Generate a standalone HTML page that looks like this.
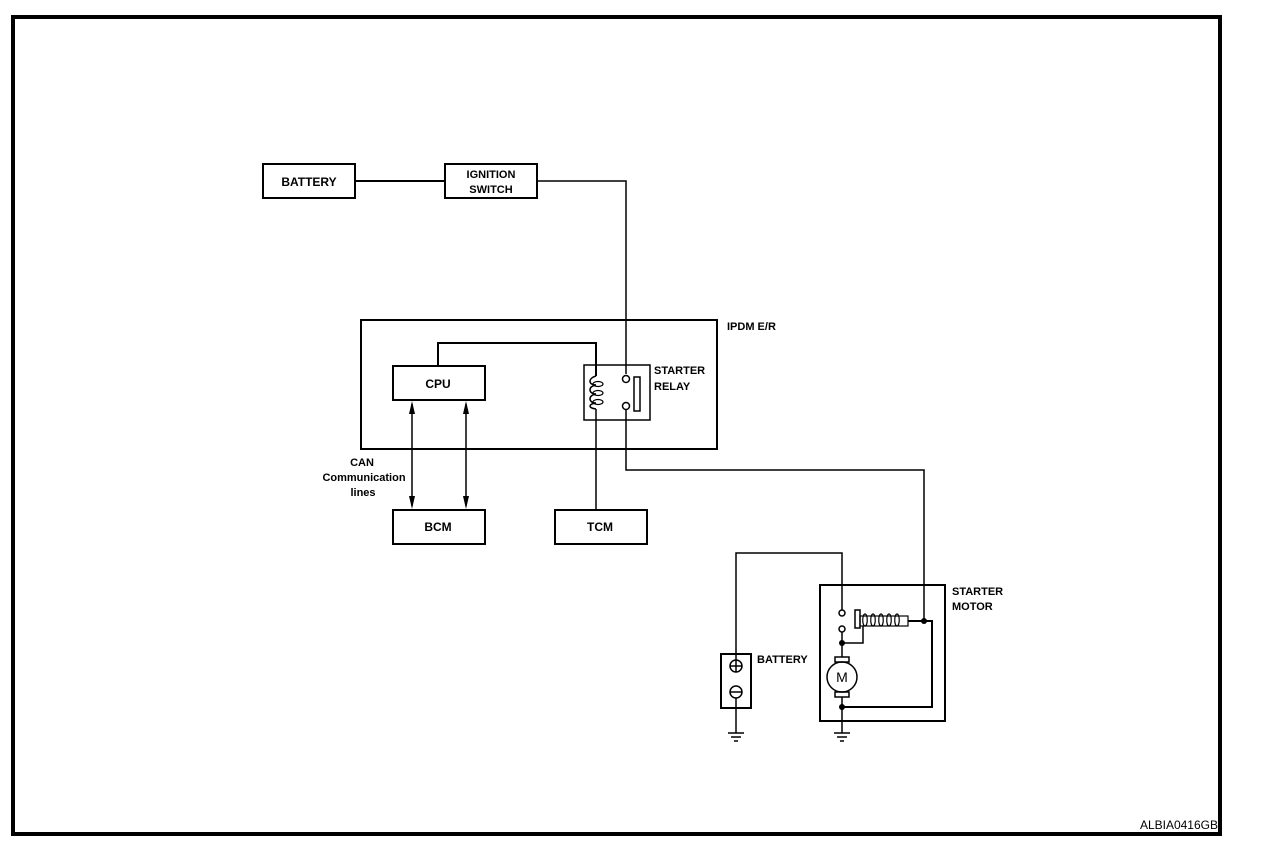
<!DOCTYPE html>
<html><head><meta charset="utf-8"><style>
html,body{margin:0;padding:0;background:#fff;}
svg{display:block;}
text{font-family:"Liberation Sans",Arial,sans-serif;font-size:12px;font-weight:bold;fill:#000;}
</style></head><body>
<svg width="1264" height="850" viewBox="0 0 1264 850" xmlns="http://www.w3.org/2000/svg">
<rect x="0" y="0" width="1264" height="850" fill="#fff"/>
<rect x="13" y="17" width="1207" height="817" fill="none" stroke="#000" stroke-width="4"/>
<text x="1218" y="829" text-anchor="end" style="font-weight:normal;font-size:12px">ALBIA0416GB</text>

<g fill="none" stroke="#000" stroke-width="2">
<rect x="263" y="164" width="92" height="34"/>
<rect x="445" y="164" width="92" height="34"/>
<line x1="355" y1="181" x2="445" y2="181"/>
<polyline points="537,181 626,181 626,374" stroke-width="1.5"/>
<rect x="361" y="320" width="356" height="129"/>
<rect x="393" y="366" width="92" height="34"/>
<polyline points="438,366 438,343 596,343 596,376"/>
<rect x="584" y="365" width="66" height="55" stroke-width="1.5"/>
<circle cx="626" cy="379" r="3.5" stroke-width="1.5"/>
<circle cx="626" cy="406" r="3.5" stroke-width="1.5"/>
<rect x="634" y="377" width="6" height="34" stroke-width="1.5"/>
<path d="M596,376 C588,378 588,385 596,385 C588,386 588,394 596,394 C588,395 588,403 596,403 C588,404 588,408 596,409" stroke-width="1.5"/>
<ellipse cx="598" cy="384" rx="5" ry="2.5" stroke-width="1.2"/>
<ellipse cx="598" cy="393" rx="5" ry="2.5" stroke-width="1.2"/>
<ellipse cx="598" cy="402" rx="5" ry="2.5" stroke-width="1.2"/>
<line x1="596" y1="409" x2="596" y2="510" stroke-width="1.5"/>
<polyline points="626,410 626,470 924,470 924,622" stroke-width="1.5"/>
<rect x="393" y="510" width="92" height="34"/>
<rect x="555" y="510" width="92" height="34"/>
<line x1="412" y1="404" x2="412" y2="506" stroke-width="1.5"/>
<line x1="466" y1="404" x2="466" y2="506" stroke-width="1.5"/>
<rect x="820" y="585" width="125" height="136"/>
<polyline points="736,660 736,553 842,553 842,610" stroke-width="1.5"/>
<rect x="721" y="654" width="30" height="54"/>
<circle cx="736" cy="666" r="6" stroke-width="1.5"/>
<line x1="730" y1="666" x2="742" y2="666" stroke-width="1.5"/>
<line x1="736" y1="660" x2="736" y2="672" stroke-width="1.5"/>
<circle cx="736" cy="692" r="6" stroke-width="1.5"/>
<line x1="730" y1="692" x2="742" y2="692" stroke-width="1.5"/>
<line x1="736" y1="698" x2="736" y2="733" stroke-width="1.5"/>
<circle cx="842" cy="613" r="3" stroke-width="1.5"/>
<circle cx="842" cy="629" r="3" stroke-width="1.5"/>
<line x1="842" y1="632" x2="842" y2="657" stroke-width="1.5"/>
<polyline points="842,643 863,643 863,626" stroke-width="1.5"/>
<rect x="855" y="610" width="5" height="18" stroke-width="1.5"/>
<rect x="860" y="616" width="48" height="10" stroke-width="1.2"/>
<path d="M865,626 c-3,0 -3,-12 0,-12 c3,0 3,12 0,12 M873,626 c-3,0 -3,-12 0,-12 c3,0 3,12 0,12 M881,626 c-3,0 -3,-12 0,-12 c3,0 3,12 0,12 M889,626 c-3,0 -3,-12 0,-12 c3,0 3,12 0,12 M897,626 c-3,0 -3,-12 0,-12 c3,0 3,12 0,12" stroke-width="1.2"/>
<polyline points="908,621 932,621 932,707 842,707" stroke-width="2"/>
<circle cx="842" cy="677" r="15" stroke-width="1.5"/>
<rect x="835" y="657" width="14" height="5" stroke-width="1.5"/>
<rect x="835" y="692" width="14" height="5" stroke-width="1.5"/>
<line x1="842" y1="697" x2="842" y2="733" stroke-width="1.5"/>
</g>
<g stroke="#000" stroke-width="1.5">
<line x1="728" y1="733" x2="744" y2="733"/><line x1="731" y1="737" x2="741" y2="737"/><line x1="734" y1="741" x2="738" y2="741"/>
<line x1="834" y1="733" x2="850" y2="733"/><line x1="837" y1="737" x2="847" y2="737"/><line x1="840" y1="741" x2="844" y2="741"/>
</g>
<g fill="#000">
<circle cx="924" cy="621" r="3"/>
<circle cx="842" cy="643" r="3"/>
<circle cx="842" cy="707" r="3"/>
<polygon points="412,401 409,414 415,414"/><polygon points="412,509 409,496 415,496"/>
<polygon points="466,401 463,414 469,414"/><polygon points="466,509 463,496 469,496"/>
</g>
<text x="842" y="682" text-anchor="middle" style="font-weight:normal;font-size:14px">M</text>

<text x="309" y="186" text-anchor="middle">BATTERY</text>
<text x="491" y="178" text-anchor="middle" style="font-size:11px">IGNITION</text>
<text x="491" y="193" text-anchor="middle" style="font-size:11px">SWITCH</text>
<text x="727" y="330" style="font-size:11px">IPDM E/R</text>
<text x="438" y="388" text-anchor="middle">CPU</text>
<text x="654" y="374" style="font-size:11px">STARTER</text>
<text x="654" y="390" style="font-size:11px">RELAY</text>
<text x="362" y="466" text-anchor="middle" style="font-size:11px">CAN</text>
<text x="364" y="481" text-anchor="middle" style="font-size:11px">Communication</text>
<text x="363" y="496" text-anchor="middle" style="font-size:11px">lines</text>
<text x="438" y="531" text-anchor="middle">BCM</text>
<text x="600" y="531" text-anchor="middle">TCM</text>
<text x="952" y="595" style="font-size:11px">STARTER</text>
<text x="952" y="610" style="font-size:11px">MOTOR</text>
<text x="757" y="663" style="font-size:11px">BATTERY</text>
</svg>
</body></html>
